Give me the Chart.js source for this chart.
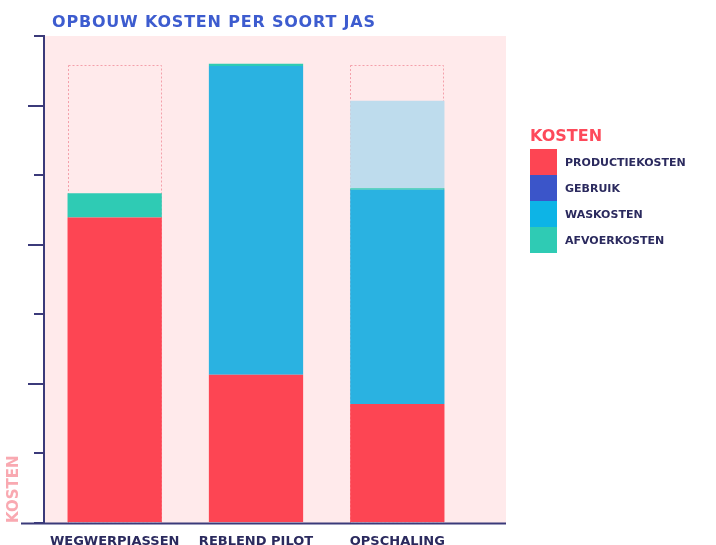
<!DOCTYPE html>
<html>
<head>
<meta charset="utf-8">
<script src="https://cdn.jsdelivr.net/npm/chart.js@4/dist/chart.umd.min.js"></script>
<style>
  html, body { margin: 0; padding: 0; background: #fff; }
  #wrap { position: relative; width: 716px; height: 545px; overflow: hidden; }
  #title {
    position: absolute; left: 52px; top: 12px;
    font: bold 16px "DejaVu Sans", sans-serif; letter-spacing: 0.8px;
    color: #3d5ccf; white-space: nowrap;
  }
  #legend { position: absolute; left: 530px; top: 126px; font-family: "DejaVu Sans", sans-serif; }
  #legend .head { font-weight: bold; font-size: 16px; color: #fd4a5b; height: 23px; line-height: 20px; }
  #legend .item { display: flex; align-items: center; height: 26px; }
  #legend .sw { width: 27px; height: 26px; margin-right: 8px; }
  #legend .lbl { font-weight: bold; font-size: 11px; color: #2b2a5e; }
</style>
</head>
<body>
<div id="wrap">
  <canvas id="chart" width="716" height="545"></canvas>
  <div id="title">OPBOUW KOSTEN PER SOORT JAS</div>
  <div id="legend"></div>
</div>
<script>
// categorieën en waarden (eenheid = 1 maatstreep op de y-as)
const categories = ['WEGWERPJASSEN', 'REBLEND PILOT', 'OPSCHALING'];
const productiekosten = [4.39, 2.13, 1.71];
const gebruik = [0, 0, 0];
const waskosten = [0, 4.44, 3.08];
const afvoerkosten = [0.35, 0.03, 0.02];
const waskostenOpschaling = [0, 0, 1.26];   // lichtblauw, niet in legenda
const referentieTotaal = [6.58, null, 6.58]; // gestippelde omlijning
const yTicks = { min: 0, max: 7, step: 1 };

const navy = '#3b3a7a';

// roze achtergrond + doorgetrokken x-as
const backgroundPlugin = {
  id: 'bgPlugin',
  beforeDraw(chart) {
    const { ctx, chartArea } = chart;
    ctx.save();
    ctx.fillStyle = '#ffeaeb';
    ctx.fillRect(chartArea.left + 1, chartArea.top, chartArea.right + 38 - chartArea.left - 1, chartArea.bottom - chartArea.top);
    ctx.restore();
  },
  afterDraw(chart) {
    const { ctx, chartArea } = chart;
    ctx.save();
    ctx.strokeStyle = navy;
    ctx.lineWidth = 2;
    ctx.beginPath();
    ctx.moveTo(chartArea.left - 23, chartArea.bottom + 0.5);
    ctx.lineTo(chartArea.right + 38, chartArea.bottom + 0.5);
    ctx.stroke();
    ctx.restore();
  }
};

// gestippelde omlijning op referentiehoogte (achter de staven)
const outlinePlugin = {
  id: 'outlinePlugin',
  beforeDatasetsDraw(chart) {
    const { ctx } = chart;
    const y = chart.scales.y;
    const meta = chart.getDatasetMeta(0);
    ctx.save();
    ctx.strokeStyle = '#f4a0aa';
    ctx.lineWidth = 1;
    ctx.setLineDash([2, 2]);
    referentieTotaal.forEach((v, i) => {
      if (v == null) return;
      const bar = meta.data[i];
      const top = y.getPixelForValue(v);
      const bottom = y.getPixelForValue(0);
      ctx.strokeRect(Math.round(bar.x - bar.width / 2) + 0.5, Math.round(top) + 0.5, Math.round(bar.width) - 1, bottom - top);
    });
    ctx.restore();
  }
};

const datasets = [
  { label: 'PRODUCTIEKOSTEN', data: productiekosten, backgroundColor: '#fd4553' },
  { label: 'GEBRUIK', data: gebruik, backgroundColor: '#3b55c9' },
  { label: 'WASKOSTEN', data: waskosten, backgroundColor: '#2ab2e1', legendColor: '#0db4e6' },
  { label: 'AFVOERKOSTEN', data: afvoerkosten, backgroundColor: '#2fcbb4' },
  { label: 'WASKOSTEN OPSCHALING', data: waskostenOpschaling, backgroundColor: '#bedced', hideInLegend: true }
];

const chart = new Chart(document.getElementById('chart'), {
  type: 'bar',
  data: {
    labels: categories,
    datasets: datasets.map(d => Object.assign({
      borderWidth: 0,
      barPercentage: 0.667,
      categoryPercentage: 1
    }, d))
  },
  options: {
    responsive: false,
    animation: false,
    layout: { padding: { top: 36, right: 248, bottom: 0, left: 0 } },
    plugins: {
      legend: { display: false },
      tooltip: { enabled: false }
    },
    scales: {
      x: {
        stacked: true,
        grid: { display: false, drawTicks: false },
        border: { display: false },
        ticks: {
          padding: 11,
          color: '#2b2a5e',
          font: { family: 'DejaVu Sans', weight: 'bold', size: 13 }
        },
        afterFit(scale) { scale.height = 22; }
      },
      y: {
        stacked: true,
        min: yTicks.min,
        max: yTicks.max,
        weight: 1,
        ticks: { stepSize: yTicks.step, display: false },
        grid: { drawOnChartArea: false, drawTicks: true, tickLength: 10, color: navy, lineWidth: 2 },
        border: { display: true, color: navy, width: 2 },
        title: {
          display: true,
          text: 'KOSTEN',
          align: 'start',
          color: '#f9a9b1',
          font: { family: 'DejaVu Sans', weight: 'bold', size: 15 },
          padding: { top: 5, bottom: 0 }
        },
        afterFit(scale) { scale.width = 44; }
      },
      yLang: {
        position: 'left',
        min: yTicks.min,
        max: yTicks.max,
        weight: 0,
        ticks: { stepSize: yTicks.step, display: false },
        grid: {
          drawOnChartArea: false,
          drawTicks: true,
          tickLength: 16,
          lineWidth: 2,
          tickColor: ctx => (ctx.tick && ctx.tick.value > 0 && ctx.tick.value % 2 === 0) ? navy : 'rgba(0,0,0,0)'
        },
        border: { display: false },
        afterFit(scale) { scale.width = 0; }
      }
    }
  },
  plugins: [backgroundPlugin, outlinePlugin]
});

// legenda opbouwen uit de datasets
const legend = document.getElementById('legend');
legend.innerHTML = '<div class="head">KOSTEN</div>' + datasets
  .filter(d => !d.hideInLegend)
  .map(d => `<div class="item"><div class="sw" style="background:${d.legendColor || d.backgroundColor}"></div><div class="lbl">${d.label}</div></div>`)
  .join('');
</script>
</body>
</html>
